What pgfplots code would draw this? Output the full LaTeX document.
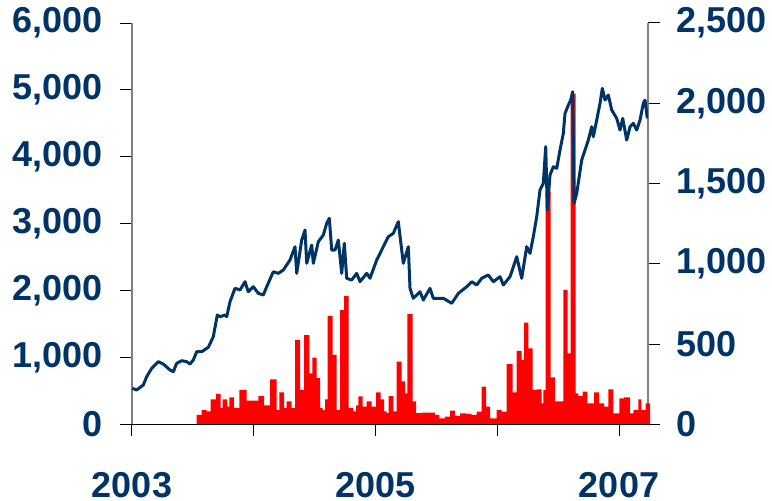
\documentclass[border=0pt]{standalone}
\usepackage{pgfplots}
\pgfplotsset{compat=1.18}
\usepackage{fontspec}
\setmainfont{Liberation Sans}
\definecolor{navy}{RGB}{0,51,102}
\definecolor{axgray}{RGB}{128,128,128}
\pgfplotsset{
  common/.style={
    scale only axis, width=516pt, height=401.3pt,
    xmin=0, xmax=4.238,
    at={(0pt,0pt)}, anchor=south west,
    tick style={black, line width=1pt},
    major tick length=12pt,
    tick align=outside,
    ticklabel style={font=\fontsize{36}{40}\selectfont\bfseries, text=navy, inner sep=0pt},
    scaled ticks=false,
    axis line style={-},
  }
}
\begin{document}
\begin{tikzpicture}
\path[use as bounding box] (-132pt,-76.7pt) rectangle (640pt,424.3pt);
% bars on right axis
\begin{axis}[common,
  axis x line=none, axis y line*=right,
  ymin=0, ymax=2500, ytick={0,500,1000,1500,2000,2500},
  yticklabels={0,500,{1,000},{1,500},{2,000},{2,500}},
  y axis line style={axgray, line width=1.3pt, -},
  yticklabel style={anchor=west, xshift=16pt},
  clip=false]
\addplot[ybar interval, fill=red, draw=none] coordinates {
(0.5311,58) (0.5722,89) (0.6133,80) (0.6462,156) (0.6899,189) (0.7283,100)
(0.7447,156) (0.7830,110) (0.7994,168) (0.8378,100) (0.8816,214) (0.9418,147)
(0.9829,147) (1.0376,176) (1.0842,118) (1.1335,280) (1.1882,89) (1.2101,199)
(1.2485,100) (1.2704,143) (1.3114,100) (1.3388,525) (1.3799,214) (1.4127,556)
(1.4565,318) (1.4812,415) (1.5168,287) (1.5441,100) (1.5661,89) (1.5852,156)
(1.6071,675) (1.6482,432) (1.6810,89) (1.7084,712) (1.7413,799) (1.7796,100)
(1.8179,80) (1.8398,118) (1.8590,174) (1.8946,110) (1.9275,143) (1.9685,110)
(2.0041,199) (2.0424,156) (2.0698,80) (2.0917,70) (2.1081,176) (2.1465,80)
(2.1739,390) (2.2149,268) (2.2423,193) (2.2614,687) (2.3053,143) (2.3326,70)
(2.3792,72) (2.4887,58) (2.5243,37) (2.5709,48) (2.6119,85) (2.6530,52)
(2.6940,68) (2.7488,64) (2.7899,58) (2.8309,79) (2.8720,234) (2.9076,110)
(2.9405,37) (2.9952,89) (3.0363,79) (3.0774,375) (3.1267,199) (3.1595,457)
(3.2005,400) (3.2197,633) (3.2553,473) (3.2909,214) (3.3238,218) (3.3648,130)
(3.3785,214) (3.3977,1450) (3.4388,293) (3.4744,143) (3.5428,837) (3.5784,442)
(3.6030,2060) (3.6441,193) (3.6660,176) (3.7016,203) (3.7399,130) (3.7563,130)
(3.7947,199) (3.8357,130) (3.8768,110) (3.9124,218) (3.9535,68) (4.0027,162)
(4.0411,168) (4.0903,68) (4.1177,89) (4.1588,156) (4.1834,89) (4.2190,130)
(4.2546,130)
};
\end{axis}
% line on left axis
\begin{axis}[common,
  axis x line*=bottom, axis y line*=left,
  ymin=0, ymax=6000, ytick={0,1000,2000,3000,4000,5000,6000},
  yticklabels={0,{1,000},{2,000},{3,000},{4,000},{5,000},{6,000}},
  xtick={0,1,2,3,4}, xticklabels={2003,,2005,,2007},
  x axis line style={black, line width=1.2pt, -},
  y axis line style={axgray, line width=1.3pt, -},
  yticklabel style={anchor=east, xshift=-17pt},
  xticklabel style={anchor=north, yshift=-36pt}]
\addplot[navy, line width=3pt, line join=round] coordinates {
(0.0025,538) (0.0386,513) (0.0928,588) (0.1207,712) (0.1618,837) (0.2160,936)
(0.2571,901) (0.3121,812) (0.3392,786) (0.3671,912) (0.4082,951) (0.4493,936)
(0.4764,901) (0.5035,961) (0.5314,1085) (0.5725,1085) (0.6267,1151) (0.6678,1310)
(0.7006,1634) (0.7228,1609) (0.7639,1634) (0.7778,1609) (0.8049,1833) (0.8460,2033)
(0.8871,2008) (0.9281,2132) (0.9552,1982) (0.9963,2057) (1.0374,1958) (1.0784,1933)
(1.1064,2057) (1.1606,2281) (1.2016,2257) (1.2427,2307) (1.2977,2456) (1.3388,2655)
(1.3528,2257) (1.3938,2755) (1.4209,2905) (1.4349,2407) (1.4760,2680) (1.4891,2407)
(1.5302,2730) (1.5713,2830) (1.5992,3005) (1.6206,3080) (1.6402,2606) (1.6674,2606)
(1.6945,2755) (1.7224,2257) (1.7437,2706) (1.7634,2183) (1.8045,2157) (1.8456,2257)
(1.8727,2132) (1.9277,2257) (1.9548,2183) (2.0099,2456) (2.0641,2655) (2.1051,2805)
(2.1462,2855) (2.1873,3029) (2.2283,2407) (2.2694,2655) (2.2834,2033) (2.3105,1884)
(2.3515,1958) (2.3655,1982) (2.3926,1858) (2.4476,2033) (2.4747,1884) (2.5569,1884)
(2.6259,1809) (2.6801,1958) (2.7491,2057) (2.7901,2132) (2.8312,2083) (2.8723,2183)
(2.9265,2232) (2.9676,2132) (3.0226,2207) (3.0497,2083) (3.1047,2207) (3.1598,2506)
(3.2008,2183) (3.2419,2655) (3.2690,2556) (3.2961,2805) (3.3240,3104) (3.3511,3503)
(3.3782,3603) (3.3979,4150) (3.4111,3204) (3.4333,3727) (3.4604,3851) (3.4883,3827)
(3.5154,4101) (3.5425,4350) (3.5565,4649) (3.5836,4773) (3.6033,4848) (3.6197,4972)
(3.6304,3304) (3.6526,3453) (3.6936,3951) (3.7207,4101) (3.7478,4250) (3.7758,4449)
(3.7889,4300) (3.8168,4549) (3.8439,4799) (3.8628,5023) (3.8850,4848) (3.9121,4923)
(3.9400,4699) (3.9811,4574) (4.0082,4400) (4.0304,4574) (4.0632,4250) (4.0903,4449)
(4.1175,4500) (4.1454,4400) (4.1725,4549) (4.1996,4799) (4.2136,4848) (4.2324,4574)
};
\end{axis}
\end{tikzpicture}
\end{document}
